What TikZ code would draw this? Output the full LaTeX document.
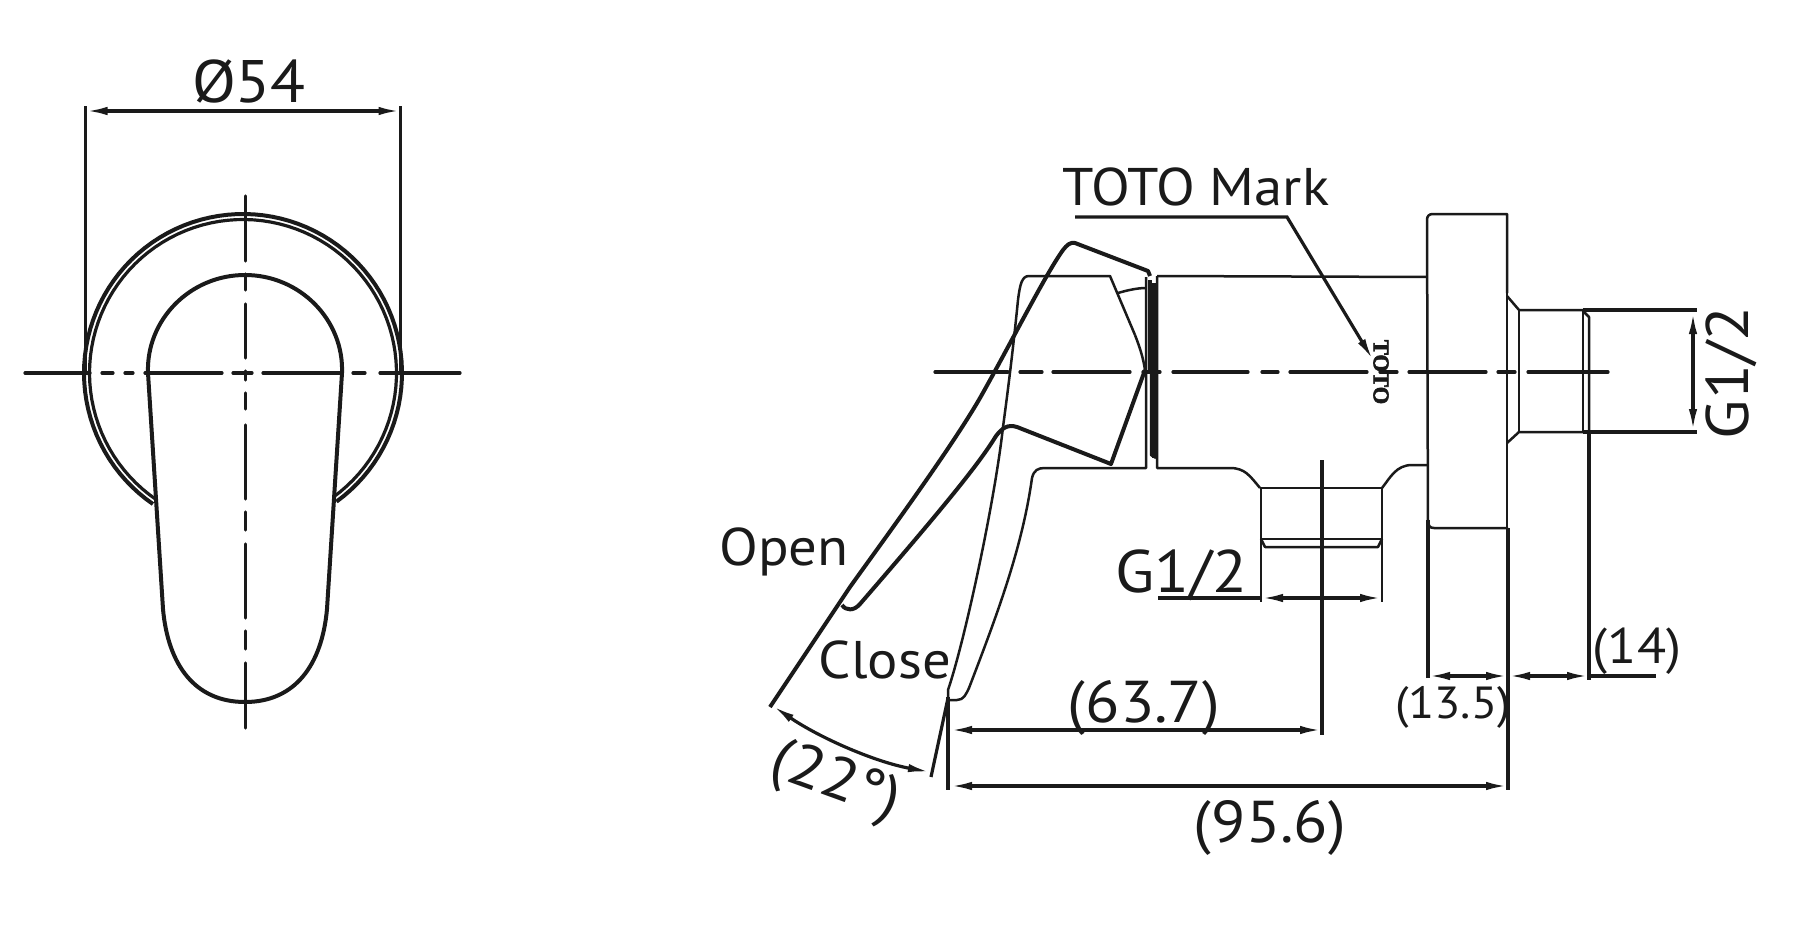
\documentclass[tikz,border=0pt]{standalone}
\usepackage{fontspec}
\setmainfont[FakeStretch=1.07]{PT Sans}
\newfontfamily\markfont[BoldFeatures={FakeBold=2.5}]{Liberation Serif}
\usetikzlibrary{arrows.meta}
\definecolor{ink}{HTML}{1A1A1A}
\tikzset{
 thinl/.style={line width=1.25pt,draw=ink,line join=round},
 midl/.style={line width=1.6pt,draw=ink,line join=round},
 thickl/.style={line width=2pt,draw=ink,line join=round},
 center line/.style={line width=1.6pt,draw=ink,line cap=round},
 dim/.style={line width=1.6pt,draw=ink},
 lab/.style={inner sep=0pt,anchor=base,text=ink},
}
\begin{document}
\begin{tikzpicture}[x=0.5pt,y=-0.5pt]
\useasboundingbox (0,0) rectangle (1796,926);
% ---- front view
\draw[thickl] plot[domain=124.5:414,samples=90] ({243+159*cos(\x)},{373+159*sin(\x)});
\draw[midl] plot[domain=124.5:414,samples=90] ({243+153.5*cos(\x)},{373+153.5*sin(\x)});
\draw[thickl] (148,373) .. controls (146,320) and (190,275) .. (245,275)
  .. controls (300,275) and (344,320) .. (342,373) -- (327,609)
  .. controls (322,665) and (295,702) .. (245,702)
  .. controls (195,702) and (168,665) .. (163,609) -- cycle;
\foreach \a/\b in {25/90,102/113,125/133,145/222,233/252,263/340,353/365,380/460}
  \draw[center line] (\a,373) -- (\b,373);
\foreach \a/\b in {196/261,274/290,304/358,371/380,393/409,425/499,512/530,544/618,631/649,663/728}
  \draw[center line] (245.3,\a) -- (245.3,\b);
\draw[dim] (85.5,106) -- (85.5,373);
\draw[dim] (400.5,106) -- (400.5,373);
\coordinate (dL) at (85.5,111);
\coordinate (dR) at (400.5,111);
\draw[dim,{Latex[length=11pt,width=4.2pt]}-{Latex[length=11pt,width=4.2pt]}] (dL) -- (dR);
\node[lab,font=\fontsize{30}{30}\selectfont] (phi) at (249,102) {Ø54};
% ---- side view: body and flange
\draw[thinl] (1157,276) -- (1427,277);
\draw[thinl] (1157,276) -- (1157,468) -- (1230,468) .. controls (1245,468) and (1250,476) .. (1260,488);
\draw[thinl] (1260,488) -- (1382,488);
\draw[thinl] (1382,488) .. controls (1390,478) and (1396,465) .. (1412,465) -- (1427,465);
\draw[thinl] (1261,488) -- (1261,602);
\draw[thinl] (1382,488) -- (1382,602);
\draw[thinl] (1261,539) -- (1382,539);
\draw[thinl] (1261,539) -- (1265,547) -- (1378,547) -- (1382,539);
\draw[midl] (1428,678) -- (1428,520);
\draw[thinl] (1428,530) -- (1427,220) .. controls (1427,216) and (1429,214) .. (1433,214) -- (1507,214) -- (1507,293);
\draw[thinl] (1428,520) .. controls (1428,526) and (1430,528) .. (1434,528) -- (1508,528);
\draw[midl] (1508,528) -- (1508,790);
\draw[thinl] (1507,293) -- (1507,528);
\draw[thinl] (1507,296) -- (1519,310) -- (1583,310);
\draw[thinl] (1519,310) -- (1519,432);
\draw[thinl] (1507,443) -- (1519,432) -- (1583,432);
\draw[thinl] (1583,310) -- (1583,432);
\draw[thinl] (1583,311) -- (1589,317) -- (1589,432);
\draw[midl] (1583,310) -- (1697,310);
\draw[midl] (1583,432) -- (1697,432);
\draw[midl] (1589,432) -- (1589,680);
% ---- handle: closed position (thin)
\draw[thinl] (1135,335) -- (1110,276) -- (1029,276) .. controls (1022,276) and (1020,284) .. (1018,300)
  .. controls (1013,350) and (1008,390) .. (1003,427) .. controls (995,500) and (965,640) .. (948,690) -- (948,697);
\draw[thinl] (1135,335) .. controls (1140,348) and (1143,357) .. (1145,370);
\draw[thinl] (948,700) -- (957,700) .. controls (964,700) and (966,694) .. (969,688)
  .. controls (995,620) and (1022,550) .. (1032,478);
\draw[thinl] (1032,478) .. controls (1034,470) and (1038,468) .. (1045,468) -- (1146,468) -- (1146,277);
\draw[thinl] (1118,293) .. controls (1128,290) and (1138,288) .. (1146,288);
\draw[line width=2pt,draw=ink] (1150,280) -- (1150,370);
\draw[thinl] (1151,370) -- (1151,455) -- (1156,458);
\draw[line width=3pt,draw=ink] (1155,283) -- (1155,458);
% ---- handle: open position (thick)
\draw[thickl] (770,707) -- (850,587) .. controls (880,545) and (950,450) .. (980,398)
  .. controls (1010,345) and (1045,275) .. (1063,250) .. controls (1067,245) and (1070,242) .. (1075,243)
  -- (1148,271) -- (1150,276);
\draw[thickl] (1145,370) -- (1111,464) -- (1017,427) .. controls (1008,424) and (1002,428) .. (996,436)
  .. controls (980,462) and (950,500) .. (860,604) .. controls (854,611) and (846,611) .. (842,605);
% ---- centre line, side view
\foreach \a/\b in {935/1008,1020/1042,1053/1130,1143/1160,1173/1248,1262/1278,1290/1367,1380/1397,1409/1486,1498/1515,1528/1608}
  \draw[center line] (\a,372) -- (\b,372);
% ---- mark and leader
\node[inner sep=0pt,rotate=-90,text=ink,font=\markfont\bfseries\fontsize{11.3}{11.3}\selectfont] (mark) at (1381,372) {TOTO};
\coordinate (leadA) at (1075,217);
\coordinate (leadB) at (1287,217);
\coordinate (leadC) at (1373,360);
\draw[dim,-{Latex[length=11pt,width=4.2pt]}] (leadA) -- (leadB) -- (leadC);
\node[lab,font=\fontsize{26.5}{26.5}\selectfont] (totomark) at (1196,205) {TOTO Mark};
% ---- dimensions
\draw[dim] (1322,460) -- (1322,735);
\draw[midl] (948,697) -- (948,790);
\draw[midl] (948,698) -- (931,777);
\draw[dim,{Latex[length=11pt,width=4.2pt]}-{Latex[length=11pt,width=4.2pt]}] (950,730) -- (1322,730);
\draw[dim,{Latex[length=11pt,width=4.2pt]}-{Latex[length=11pt,width=4.2pt]}] (950,786) -- (1508,786);
\draw[dim,{Latex[length=11pt,width=4.2pt]}-{Latex[length=11pt,width=4.2pt]}] (1261,598) -- (1382,598);
\draw[dim] (1158,598) -- (1261,598);
\draw[dim,{Latex[length=11pt,width=4.2pt]}-{Latex[length=11pt,width=4.2pt]}] (1428,676) -- (1508,676);
\draw[dim,{Latex[length=11pt,width=4.2pt]}-{Latex[length=11pt,width=4.2pt]}] (1508,676) -- (1589,676);
\draw[dim] (1589,676) -- (1656,676);
\draw[dim,{Latex[length=11pt,width=4.2pt]}-{Latex[length=11pt,width=4.2pt]}] (773,706) .. controls (820,738) and (875,762) .. (930,772);
\draw[dim,{Latex[length=11pt,width=4.2pt]}-{Latex[length=11pt,width=4.2pt]}] (1693,312) -- (1693,431);
% ---- labels
\node[lab,font=\fontsize{26.5}{26.5}\selectfont] (open) at (784,565) {Open};
\node[lab,font=\fontsize{26.5}{26.5}\selectfont] (close) at (885,678) {Close};
\node[lab,font=\fontsize{30}{30}\selectfont] (gh) at (1181,592) {G1/2};
\node[lab,rotate=90,font=\fontsize{30}{30}\selectfont] (gv) at (1748,373) {G1/2};
\node[lab,font=\fontsize{29.5}{29.5}\selectfont] (d63) at (1144,722) {(63.7)};
\node[lab,font=\fontsize{29.5}{29.5}\selectfont] (d95) at (1270,842) {(95.6)};
\node[lab,font=\fontsize{25}{25}\selectfont] (d14) at (1637,663) {(14)};
\node[lab,font=\fontsize{22.5}{22.5}\selectfont] (d13) at (1453,718) {(13.5)};
\node[inner sep=0pt,rotate=-20,text=ink,font=\fontsize{30}{30}\selectfont] (d22) at (835,783) {(22°)};
\end{tikzpicture}
\end{document}
